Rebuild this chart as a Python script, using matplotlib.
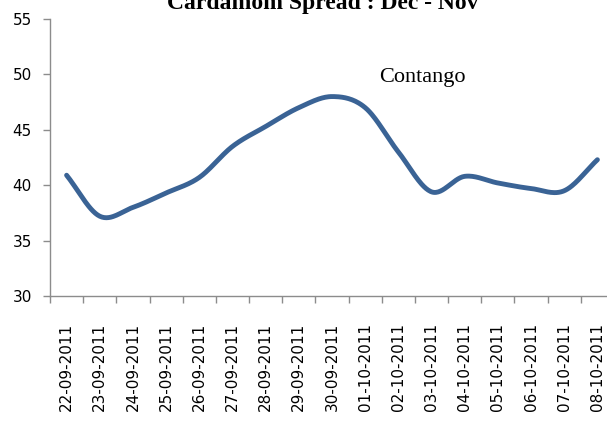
import numpy as np
import matplotlib
matplotlib.use("Agg")
import matplotlib.pyplot as plt
from matplotlib.ticker import FixedLocator

dates = ["22-09-2011", "23-09-2011", "24-09-2011", "25-09-2011", "26-09-2011",
         "27-09-2011", "28-09-2011", "29-09-2011", "30-09-2011", "01-10-2011",
         "02-10-2011", "03-10-2011", "04-10-2011", "05-10-2011", "06-10-2011",
         "07-10-2011", "08-10-2011"]
spread = [40.9, 37.2, 38.0, 39.3, 40.7, 43.5, 45.3, 47.0, 48.0, 47.0,
          43.0, 39.4, 40.8, 40.2, 39.7, 39.5, 42.3]
yticks = [30, 35, 40, 45, 50, 55]


def catmull_rom(x, y, n=30):
    x = np.asarray(x, float)
    y = np.asarray(y, float)
    px = np.concatenate([[2 * x[0] - x[1]], x, [2 * x[-1] - x[-2]]])
    py = np.concatenate([[2 * y[0] - y[1]], y, [2 * y[-1] - y[-2]]])
    xs, ys = [], []
    t = np.linspace(0, 1, n, endpoint=False)
    for i in range(1, len(px) - 2):
        for arr, out in ((px, xs), (py, ys)):
            p0, p1, p2, p3 = arr[i - 1], arr[i], arr[i + 1], arr[i + 2]
            out.append(0.5 * ((2 * p1) + (-p0 + p2) * t
                              + (2 * p0 - 5 * p1 + 4 * p2 - p3) * t ** 2
                              + (-p0 + 3 * p1 - 3 * p2 + p3) * t ** 3))
    xs.append([x[-1]])
    ys.append([y[-1]])
    return np.concatenate(xs), np.concatenate(ys)


W, H = 607, 422
fig = plt.figure(figsize=(W / 100, H / 100), dpi=100)
ax = fig.add_axes([50 / W, 1 - 296 / H, (614 - 50) / W, (296 - 19) / H])

xpos = np.arange(len(dates))
sx, sy = catmull_rom(xpos, spread)
ax.plot(sx, sy, color="#3A6395", lw=3.5, solid_capstyle="round")

ax.set_xlim(-0.5, len(dates) - 0.5)
ax.set_ylim(30, 55)
ax.set_yticks(yticks)

gray = "#8C8C8C"
for s in ("top", "right"):
    ax.spines[s].set_visible(False)
for s in ("left", "bottom"):
    ax.spines[s].set_color(gray)
    ax.spines[s].set_linewidth(1.0)

ax.xaxis.set_major_locator(FixedLocator(np.arange(len(dates) + 1) - 0.5))
ax.xaxis.set_major_formatter(plt.NullFormatter())
ax.xaxis.set_minor_locator(FixedLocator(xpos))
ax.set_xticklabels(dates, minor=True, rotation=90, fontsize=11,
                   fontfamily="DejaVu Sans")
ax.tick_params(axis="x", which="major", direction="out", length=5,
               color=gray, width=1)
ax.tick_params(axis="x", which="minor", length=0, pad=19.5)
ax.tick_params(axis="y", direction="out", length=5, color=gray, width=1,
               labelsize=11, pad=8)

fig.text(323 / W, 1 - 9 / H, "Cardamom Spread : Dec - Nov", ha="center",
         va="baseline", fontsize=17, fontweight="bold",
         fontfamily="Liberation Serif")
fig.text(379 / W, 1 - 82 / H, "Contango", ha="left", va="baseline",
         fontsize=16, fontfamily="Liberation Serif")

fig.savefig("out.png", dpi=100)
